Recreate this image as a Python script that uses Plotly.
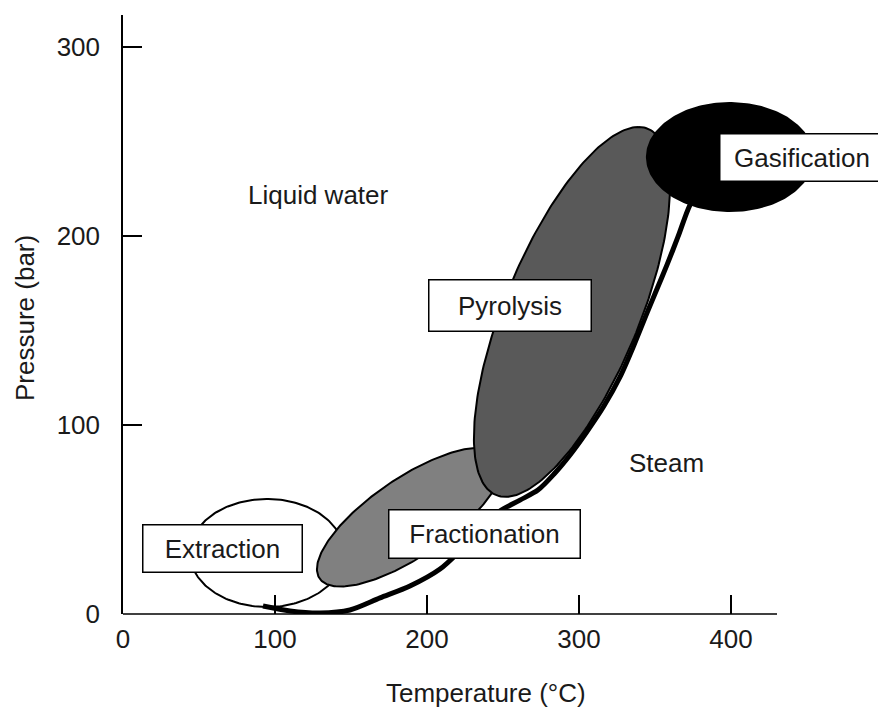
import numpy as np
import plotly.graph_objects as go

# ---------------- data ----------------
# Saturation (boiling) curve of water: temperature (°C) / pressure (bar)
sat_T = [92.1, 109.9, 129.6, 149.3, 169.1, 188.8, 208.6, 221.7, 234.9, 248.0, 261.2, 273.0,
         283.6, 294.1, 304.6, 316.4, 327.0, 336.2, 344.7, 351.3, 357.9, 365.1, 373.0, 379.6]
sat_P = [4.2, 1.6, 0.5, 2.1, 8.5, 14.8, 23.8, 33.4, 44.5, 54.5, 60.3, 65.6,
         74.1, 84.2, 95.8, 110.1, 125.5, 142.4, 159.3, 172.0, 184.8, 199.6, 216.5, 224.5]

# Process windows drawn as ellipses: centre plus two conjugate semi-diameters (°C, bar)
process_names = ["Extraction", "Fractionation", "Pyrolysis", "Gasification"]
centre_T = [94.7, 188.8, 295.4, 399.3]
centre_P = [32.3, 51.3, 159.9, 241.9]
d1_T = [50.7, 61.2, 43.8, 54.6]
d1_P = [0.0, 27.5, 97.9, 0.0]
d2_T = [0.0, 0.0, 47.4, 0.0]
d2_P = [28.6, 24.4, 0.0, 28.6]
fill_colors = ["#ffffff", "#808080", "#595959", "#000000"]

region_labels = ["Liquid water", "Steam"]
region_T = [128.3, 357.9]
region_P = [221.8, 79.9]

x_ticks = [0, 100, 200, 300, 400]
y_ticks = [0, 100, 200, 300]

# ---------------- layout constants ----------------
# page is rendered inside an 8 px body margin
OFF = 8
W, H = 886 - OFF, 708 - OFF
ORIGIN_X, ORIGIN_Y = 123, 614          # page px of the axes origin
ML, MT = ORIGIN_X - OFF, 15 - OFF
MB = H - (ORIGIN_Y - OFF)
MR = 0
PW, PH = W - ML - MR, H - MT - MB
X_MAX, Y_MAX = 502.0, 317.1
X_AXIS_END = 430.3

FONT = "Liberation Sans, Arial, sans-serif"
TXT = "#1a1a1a"


def px_to_paper(x, y):
    return (x - ORIGIN_X) / PW, (ORIGIN_Y - y) / PH


fig = go.Figure()


def add_ellipse(i, n=240):
    t = np.linspace(0, 2 * np.pi, n)
    X = centre_T[i] + d1_T[i] * np.cos(t) + d2_T[i] * np.sin(t)
    Y = centre_P[i] + d1_P[i] * np.cos(t) + d2_P[i] * np.sin(t)
    fig.add_trace(go.Scatter(x=X, y=Y, mode="lines", fill="toself",
                             fillcolor=fill_colors[i],
                             line=dict(color="#000000", width=2),
                             hoverinfo="skip", showlegend=False))


add_ellipse(0)
fig.add_trace(go.Scatter(x=sat_T, y=sat_P, mode="lines",
                         line=dict(color="#000000", width=5, shape="spline", smoothing=0.8),
                         hoverinfo="skip", showlegend=False))
add_ellipse(1)
add_ellipse(2)
add_ellipse(3)

# boxed labels (box geometry in page px: left, right, top, bottom)
boxes = [
    (142, 303, 524, 573),
    (388, 581, 509, 559),
    (428, 592, 279, 332),
    (719, 885, 133, 182),
]
annotations = []
for name, (l, r, t, b) in zip(process_names, boxes):
    cx, cy = px_to_paper((l + r) / 2, (t + b) / 2)
    annotations.append(dict(
        x=cx, y=cy, xref="paper", yref="paper", xanchor="center", yanchor="middle",
        text=name, showarrow=False, font=dict(size=26, color=TXT, family=FONT),
        bgcolor="#ffffff", bordercolor="#000000", borderwidth=1.5, borderpad=0,
        width=r - l - 3, height=b - t - 3, align="center", valign="middle"))

for name, tx, py in zip(region_labels, region_T, region_P):
    annotations.append(dict(x=tx, y=py, xref="x", yref="y", text=name, showarrow=False,
                            font=dict(size=26, color=TXT, family=FONT)))

# axis titles
tx, ty = px_to_paper(486, 693)
annotations.append(dict(x=tx, y=ty, xref="paper", yref="paper",
                        text="Temperature (°C)", showarrow=False, xanchor="center", yanchor="middle",
                        font=dict(size=26, color=TXT, family=FONT)))
tx, ty = px_to_paper(25, 318)
annotations.append(dict(x=tx, y=ty, xref="paper", yref="paper",
                        text="Pressure (bar)", showarrow=False, textangle=-90,
                        xanchor="center", yanchor="middle",
                        font=dict(size=26, color=TXT, family=FONT)))

fig.update_layout(
    width=W, height=H,
    margin=dict(l=ML, r=MR, t=MT, b=MB, pad=0),
    paper_bgcolor="#ffffff", plot_bgcolor="#ffffff",
    showlegend=False,
    annotations=annotations,
    shapes=[dict(type="line", xref="x", yref="paper", x0=0, x1=X_AXIS_END, y0=0, y1=0,
                 line=dict(color="#000000", width=1.5), layer="above")],
    xaxis=dict(range=[0, X_MAX], showgrid=False, zeroline=False, showline=False,
               tickmode="array", tickvals=x_ticks, ticktext=[str(v) for v in x_ticks],
               ticks="inside", ticklen=19, tickwidth=1.5, tickcolor="#000000",
               tickfont=dict(size=26, color=TXT, family=FONT), ticklabelstandoff=7),
    yaxis=dict(range=[0, Y_MAX], showgrid=False, zeroline=False, showline=True,
               linecolor="#000000", linewidth=1.5,
               tickmode="array", tickvals=y_ticks, ticktext=[str(v) for v in y_ticks],
               ticks="inside", ticklen=19, tickwidth=1.5, tickcolor="#000000",
               tickfont=dict(size=26, color=TXT, family=FONT), ticklabelstandoff=16),
)

fig.write_html("out.html")
